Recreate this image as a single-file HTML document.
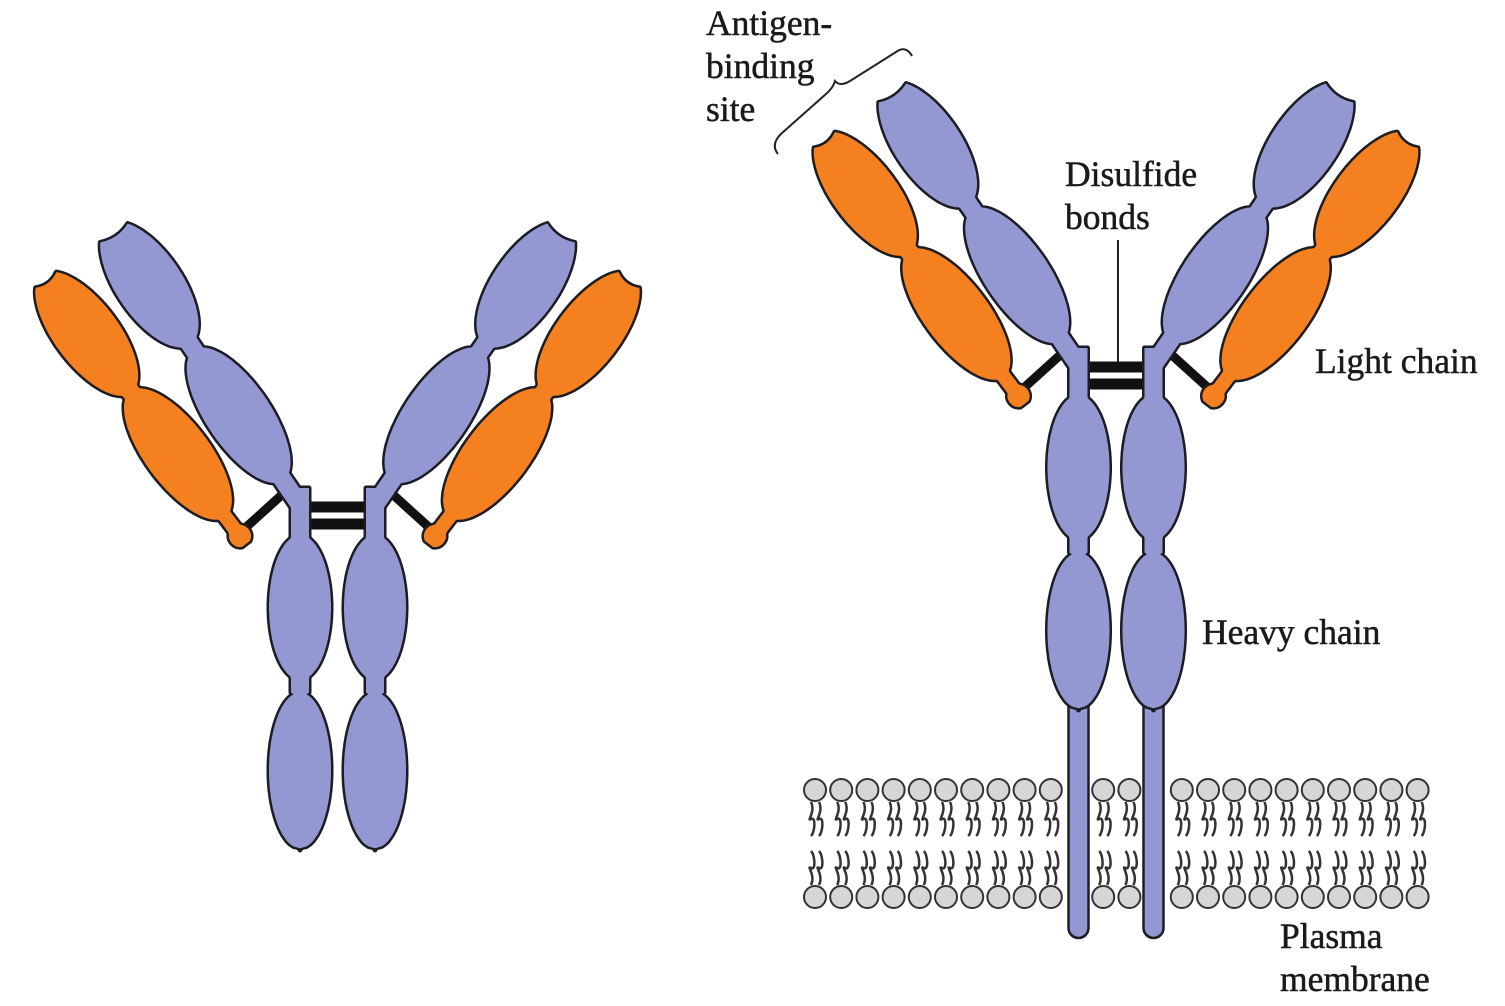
<!DOCTYPE html>
<html><head><meta charset="utf-8">
<style>
html,body{margin:0;padding:0;background:#fff;}
svg{display:block;}
text{font-family:"Liberation Serif",serif;font-size:35.5px;fill:#1a1a1a;stroke:#1a1a1a;stroke-width:0.5;}
</style></head>
<body>
<svg id="fig" width="1505" height="1006" viewBox="0 0 1505 1006" xmlns="http://www.w3.org/2000/svg">
<g id="membrane"></g>
<g id="bonds"></g>
<g id="strokes"></g>
<g id="fills"></g>
<path d="M778,154 Q770,144 782,133 L826,94 Q833,88 835,81 Q840,87 850,81 L896,52 Q906,45 912,56" fill="none" stroke="#222" stroke-width="2"/>
<line x1="1118" y1="240" x2="1118" y2="362" stroke="#222" stroke-width="2"/>
<text x="706" y="35">Antigen-</text>
<text x="706" y="78">binding</text>
<text x="706" y="121">site</text>
<text x="1065" y="186">Disulfide</text>
<text x="1065" y="229">bonds</text>
<text x="1315" y="373">Light chain</text>
<text x="1202" y="644">Heavy chain</text>
<text x="1280" y="948">Plasma</text>
<text x="1280" y="991">membrane</text>
</svg>
<script>
const NS="http://www.w3.org/2000/svg";
const HEAVY="#9498d2", LIGHT="#f5801f", INK="#1c1c24";
const strokes=document.getElementById('strokes'), fills=document.getElementById('fills');
const bonds=document.getElementById('bonds'), mem=document.getElementById('membrane');

function profilePath(B,T,prof,L0,notch){
  const dx=T[0]-B[0], dy=T[1]-B[1], L=Math.hypot(dx,dy);
  const ux=dx/L, uy=dy/L, nx=-uy, ny=ux;
  function hw(t){
    let w=0;
    for(const p of prof){
      if(p[0]==='n'){ if(t>=p[1]*L && t<=p[2]*L) w=Math.max(w,p[3]); }
      else { const z=(t-p[1]*L)/(p[2]*L); if(Math.abs(z)<1) w=Math.max(w,p[3]*Math.sqrt(1-z*z)); }
    }
    return w;
  }
  const up=[],dn=[];
  const start=L0||0;
  for(let i=0;i<=200;i++){
    const t=start+(L-start)*i/200; const w=hw(t);
    up.push([B[0]+ux*t+nx*w,B[1]+uy*t+ny*w]);
    dn.push([B[0]+ux*t-nx*w,B[1]+uy*t-ny*w]);
  }
  let d='M'+up.map(p=>p[0].toFixed(1)+','+p[1].toFixed(1)).join(' L');
  const e=dn[dn.length-1];
  if(notch){
    const cx=B[0]+ux*(L-notch), cy=B[1]+uy*(L-notch);
    d+=' Q'+cx.toFixed(1)+','+cy.toFixed(1)+' '+e[0].toFixed(1)+','+e[1].toFixed(1);
  }
  d+=' L'+dn.reverse().map(p=>p[0].toFixed(1)+','+p[1].toFixed(1)).join(' L')+' Z';
  return d;
}
function shape(d,fill,name){
  const s=document.createElementNS(NS,'path');
  s.setAttribute('d',d);s.setAttribute('fill',INK);s.setAttribute('stroke',INK);s.setAttribute('stroke-width','5');s.setAttribute('stroke-linejoin','round');
  
  
  strokes.appendChild(s);
  const f=document.createElementNS(NS,'path');
  f.setAttribute('d',d);f.setAttribute('fill',fill);
  
  
  fills.appendChild(f);
}
function line(x1,y1,x2,y2,w,name){
  const l=document.createElementNS(NS,'line');
  l.setAttribute('x1',x1);l.setAttribute('y1',y1);l.setAttribute('x2',x2);l.setAttribute('y2',y2);
  l.setAttribute('stroke','#111');l.setAttribute('stroke-width',w);
  
  
  bonds.appendChild(l);
}
const heavyArm=[['n',0,0.12,9],['e',0.33,0.24,32],['n',0.55,0.61,9],['e',0.81,0.22,33]];
const lightArm=[['e',0.0,0.035,11],['n',0,0.12,7],['e',0.32,0.245,32],['n',0.54,0.58,9],['e',0.79,0.23,32]];
function stalk(x,y0,y1,name){
  const prof=[['n',0,0.15,9],['e',0.33,0.2,31],['n',0.5,0.57,9],['e',0.78,0.215,31]];
  shape(profilePath([x,y0],[x,y1],prof,0,0),HEAVY,name);
}
function antibody(ox,oy,tail,pre){
  const C=337.5+ox;
  for(const side of [-1,1]){
    const X=v=>C+side*(v-337.5);
    const sn=side<0?'left':'right';
    line(X(285),492+oy,X(243),530+oy,9,pre+'-link-'+sn);
    shape(profilePath([X(300),505+oy],[X(114),233+oy],heavyArm,0,7),HEAVY,pre+'-heavy-arm-'+sn);
    shape(profilePath([X(240),536+oy],[X(46),280+oy],lightArm,-10,7),LIGHT,pre+'-light-arm-'+sn);
    if(tail){
      const r=document.createElementNS(NS,'rect');
      r.setAttribute('x',X(300)-10);r.setAttribute('y',690+oy);r.setAttribute('width',20);r.setAttribute('height',938-(690+oy));
      r.setAttribute('rx',10);r.setAttribute('fill',HEAVY);r.setAttribute('stroke',INK);r.setAttribute('stroke-width','2.5');
      
      
      strokes.appendChild(r);
    }
    stalk(X(300),488+oy,850+oy,pre+'-heavy-stem-'+sn);
  }
  line(C-35,507+oy,C+35,507+oy,11,pre+'-disulfide-bar-top');
  line(C-35,524+oy,C+35,524+oy,11,pre+'-disulfide-bar-bottom');
}
antibody(0,0,false,'soluble-antibody');
antibody(778.5,-140,true,'membrane-antibody');

const tails=[1078,1155];
for(let i=0;i<24;i++){
  const x=815+i*26.2;
  if(tails.some(t=>Math.abs(x-t)<20)) continue;
  for(const [y,dir] of [[790,1],[897,-1]]){
    for(const off of [-4,4]){
      const p=document.createElementNS(NS,'path');
      const y0=y+dir*12, y1=y+dir*46;
      p.setAttribute('d',`M${x+off},${y0} C${x+off+5},${y0+dir*10} ${x+off-5},${y0+dir*20} ${x+off},${(y0+y1)/2} S${x+off+4},${y1-dir*4} ${x+off},${y1}`);
      p.setAttribute('fill','none');p.setAttribute('stroke','#333');p.setAttribute('stroke-width','2.5');
      
      
      mem.appendChild(p);
    }
    const c=document.createElementNS(NS,'circle');
    c.setAttribute('cx',x);c.setAttribute('cy',y);c.setAttribute('r',11);
    c.setAttribute('fill','#d6d6d6');c.setAttribute('stroke','#333');c.setAttribute('stroke-width','2');
    
    
    mem.appendChild(c);
  }
}
</script>
</body></html>
